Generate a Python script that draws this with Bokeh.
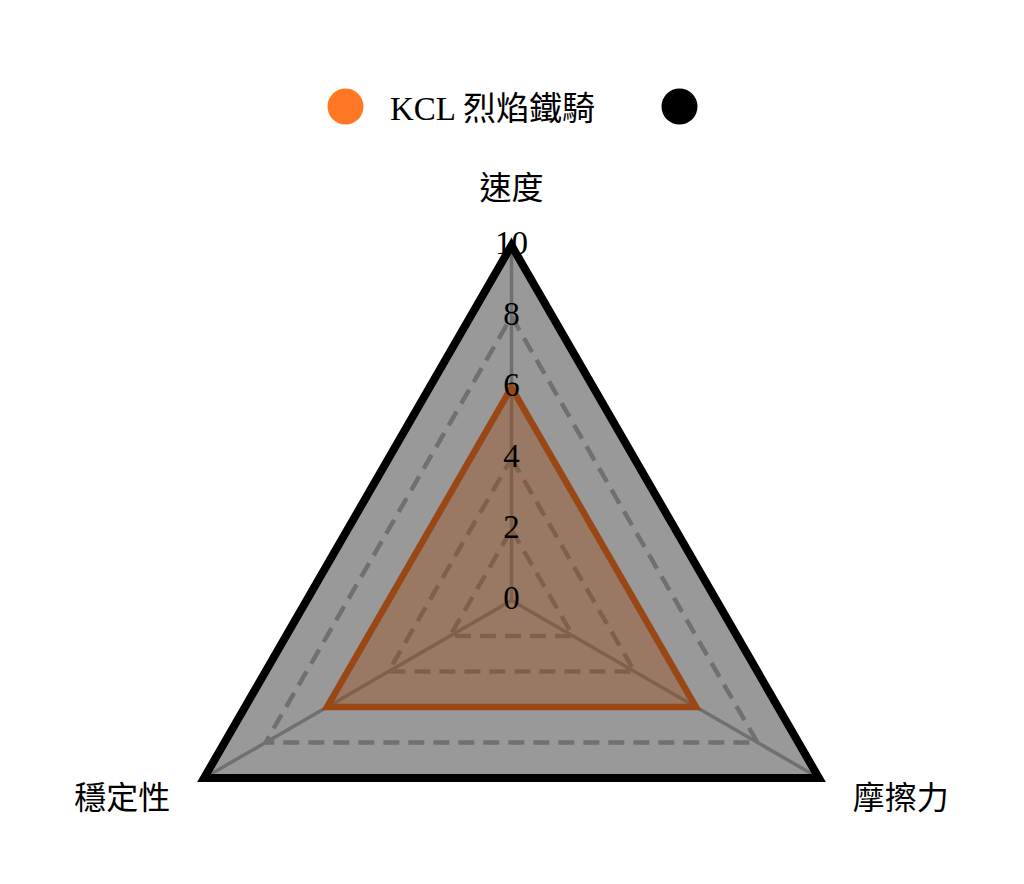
import numpy as np
from bokeh.plotting import figure
from bokeh.models import ColumnDataSource, Legend, LegendItem
from bokeh.core.properties import value
from bokeh.embed import file_html
from bokeh.resources import INLINE

# ---- data ----
categories = ["速度", "摩擦力", "穩定性"]
series_names = ["KCL 烈焰鐵騎", ""]
kcl_values = [6, 6, 6]
other_values = [10, 10, 10]
tick_values = [0, 2, 4, 6, 8, 10]
tick_labels = ["0", "2", "4", "6", "8", "10"]
max_value = 10
colors = ["#ff7722", "#000000"]

FONT = "'Liberation Serif', 'Noto Sans CJK TC', serif"

W, H = 1024, 884
cx_px, cy_px = 511, 600      # centre in canvas pixels
R = 355.0                    # radius in pixels

p = figure(width=W, height=H, output_backend="svg", toolbar_location=None,
           x_range=(-cx_px / R, (W - cx_px) / R),
           y_range=(-(H - cy_px) / R, cy_px / R),
           min_border=0, outline_line_color=None)
p.axis.visible = False
p.grid.visible = False
p.background_fill_color = "white"
p.border_fill_color = "white"

n = len(categories)
angles = np.pi / 2 - 2 * np.pi * np.arange(n) / n


def polygon(vals):
    r = np.asarray(vals, dtype=float) / max_value
    return list(r * np.cos(angles)), list(r * np.sin(angles))


# grid triangles (dashed) - drawn beneath the series
for t in tick_values[1:]:
    gx, gy = polygon([t] * n)
    p.line(gx + [gx[0]], gy + [gy[0]], line_color="#bbbbbb",
           line_width=4.5, line_dash="16 9")

# spokes
for a in angles:
    p.line([0, np.cos(a)], [0, np.sin(a)], line_color="#bbbbbb", line_width=3.5)

# series polygons
xs1, ys1 = polygon(kcl_values)
xs2, ys2 = polygon(other_values)
p.patch(xs1, ys1, fill_color=colors[0], fill_alpha=0.4,
        line_color=colors[0], line_width=6.5, line_join="miter")
p.patch(xs2, ys2, fill_color=colors[1], fill_alpha=0.4,
        line_color=colors[1], line_width=8, line_join="miter")

# tick labels along the top axis
tick_src = ColumnDataSource(dict(x=[0.0] * len(tick_values),
                                 y=[t / max_value for t in tick_values],
                                 text=tick_labels))
p.text(x="x", y="y", text="text", source=tick_src, text_align="center",
       text_baseline="middle", y_offset=-3, text_font=value(FONT),
       text_font_size="33px", text_color="black")

# category labels
lab_r = 1.11
lx = [lab_r * np.cos(a) for a in angles]
ly = [lab_r * np.sin(a) for a in angles]
aligns = ["center" if abs(np.cos(a)) < 1e-6 else ("left" if np.cos(a) > 0 else "right")
          for a in angles]
baselines = ["bottom" if np.sin(a) > 0.9 else "middle" for a in angles]
cat_src = ColumnDataSource(dict(x=lx, y=ly, text=categories, align=aligns, base=baselines))
p.text(x="x", y="y", text="text", source=cat_src, text_align="align",
       text_baseline="base", text_font=value(FONT), text_font_size="32px",
       text_color="black")

# legend markers (hidden point, legend uses marker style)
leg_r = []
for c in colors:
    leg_r.append(p.scatter([0], [0], size=0, marker="circle", fill_color=c,
                           line_color=None))

legend = Legend(items=[LegendItem(label=value(series_names[0]), renderers=[leg_r[0]]),
                       LegendItem(label=value(series_names[1]), renderers=[leg_r[1]])],
                orientation="horizontal", location=(300, 733),
                glyph_width=90, glyph_height=90, label_standoff=0, spacing=39,
                padding=0, margin=0, border_line_color=None,
                background_fill_alpha=0,
                label_text_font=FONT, label_text_font_size="33px",
                label_text_color="black", label_text_baseline="middle")
p.add_layout(legend)

open("out.html", "w").write(file_html(p, INLINE))
